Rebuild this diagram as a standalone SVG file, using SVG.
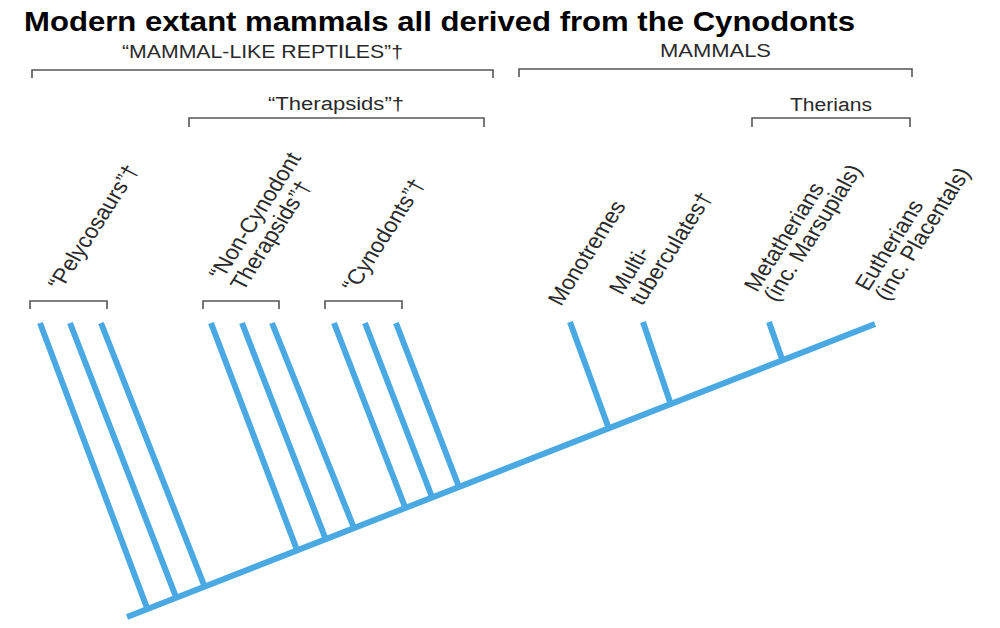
<svg xmlns="http://www.w3.org/2000/svg" width="1000" height="628" viewBox="0 0 1000 628">
<style>
.title{font-family:"Liberation Sans",Arial,sans-serif;font-weight:bold;font-size:28.5px;fill:#000}
.lbl{font-family:"Liberation Sans",Arial,sans-serif;font-size:18px;fill:#2a2a2a}
.rl{font-family:"Liberation Sans",Arial,sans-serif;font-size:21px;fill:#2a2a2a}
.br{fill:none;stroke:#555;stroke-width:1.6}
.tree{stroke:#4aa9e2;stroke-width:6;stroke-linecap:butt;fill:none}
</style>
<rect width="1000" height="628" fill="#fff"/>
<text class="title" x="24" y="31" textLength="831" lengthAdjust="spacingAndGlyphs">Modern extant mammals all derived from the Cynodonts</text>
<g id="brackets">
<g id="mammal-like-reptiles"><path class="br" d="M32,78 V70 H493 V78"/><text class="lbl" x="122" y="58" textLength="281" lengthAdjust="spacingAndGlyphs">“MAMMAL-LIKE REPTILES”†</text></g>
<g id="mammals"><path class="br" d="M519,77 V69 H912 V77"/><text class="lbl" x="660" y="57" textLength="111" lengthAdjust="spacingAndGlyphs">MAMMALS</text></g>
<g id="therapsids"><path class="br" d="M189,127 V118 H484 V127"/><text class="lbl" x="268" y="110" textLength="136" lengthAdjust="spacingAndGlyphs">“Therapsids”†</text></g>
<g id="therians"><path class="br" d="M752,127 V118 H910 V127"/><text class="lbl" x="790" y="111" textLength="82" lengthAdjust="spacingAndGlyphs">Therians</text></g>
</g>
<g id="pelycosaurs"><path class="br" d="M30,309 V301 H107 V309"/><text class="rl" transform="translate(61,291) scale(1.12,1) rotate(-60)">“Pelycosaurs”†</text></g>
<g id="non-cynodont"><path class="br" d="M203,309 V301 H279 V309"/><text class="rl" transform="translate(222,281) scale(1.12,1) rotate(-60)">“Non-Cynodont<tspan x="0" dy="22">Therapsids”†</tspan></text></g>
<g id="cynodonts"><path class="br" d="M325,309 V301 H402 V309"/><text class="rl" transform="translate(355,293) scale(1.12,1) rotate(-60)">“Cynodonts”†</text></g>
<g id="monotremes"><text class="rl" transform="translate(561,307) scale(1.12,1) rotate(-60)">Monotremes</text></g>
<g id="multituberculates"><text class="rl" transform="translate(622,296) scale(1.12,1) rotate(-60)">Multi-<tspan x="0" dy="21">tuberculates†</tspan></text></g>
<g id="metatherians"><text class="rl" transform="translate(757,293) scale(1.12,1) rotate(-60)">Metatherians<tspan x="0" dy="20">(inc. Marsupials)</tspan></text></g>
<g id="eutherians"><text class="rl" transform="translate(868,292) scale(1.12,1) rotate(-60)">Eutherians<tspan x="0" dy="20">(inc. Placentals)</tspan></text></g>
<g id="connectors">
<path class="tree" d="M127,617 L875,324"/>
<path class="tree" d="M40,323 L147,608 M70,323 L176,597 M101,323 L204,585"/>
<path class="tree" d="M211,323 L297,550 M242,323 L326,540 M272,323 L354,528"/>
<path class="tree" d="M334,323 L405,507 M365,323 L432,497 M396,323 L459,487"/>
<path class="tree" d="M570,322 L609,429 M643,322 L670,402 M769,322 L782,359"/>
</g>
</svg>
